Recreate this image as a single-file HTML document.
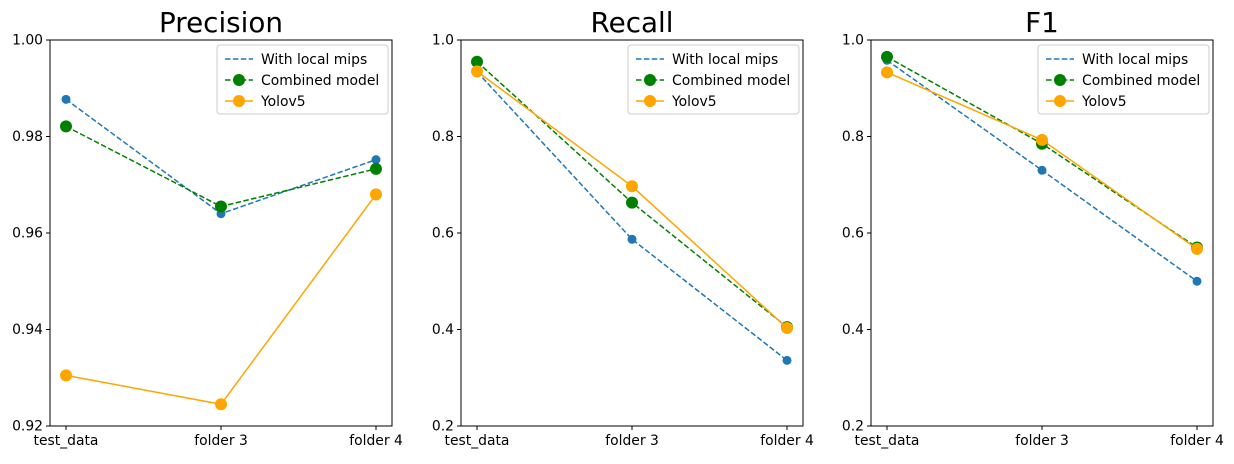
<!DOCTYPE html>
<html><head><meta charset="utf-8"><style>
body{margin:0;background:#fff}
svg text{font-family:"DejaVu Sans","Liberation Sans",sans-serif}
</style></head><body>
<svg id="c" width="1234" height="459"></svg>
<script>
const categories=["test_data","folder 3","folder 4"];
const titles=["Precision","Recall","F1"];
const seriesNames=["With local mips","Combined model","Yolov5"];
const precLocal=[0.9877,0.9640,0.9752];
const precComb=[0.9821,0.9655,0.9733];
const precYolo=[0.9305,0.9245,0.9680];
const recLocal=[0.934,0.587,0.336];
const recComb=[0.955,0.663,0.405];
const recYolo=[0.935,0.697,0.403];
const f1Local=[0.958,0.730,0.500];
const f1Comb=[0.965,0.785,0.570];
const f1Yolo=[0.933,0.793,0.567];
const precTicks=[0.92,0.94,0.96,0.98,1.00];
const otherTicks=[0.2,0.4,0.6,0.8,1.0];
const NS="http://www.w3.org/2000/svg";
const svgEl=document.getElementById('c');
function mk(tag,attrs,parent,txt){const e=document.createElementNS(NS,tag);for(const k in attrs)e.setAttribute(k,attrs[k]);if(txt!==undefined)e.textContent=txt;(parent||svgEl).appendChild(e);return e;}
const panels=[
 {x0:50,ymin:0.92,ymax:1.0,ticks:precTicks,dec:2,data:[precLocal,precComb,precYolo]},
 {x0:461,ymin:0.2,ymax:1.0,ticks:otherTicks,dec:1,data:[recLocal,recComb,recYolo]},
 {x0:871,ymin:0.2,ymax:1.0,ticks:otherTicks,dec:1,data:[f1Local,f1Comb,f1Yolo]}];
const PW=342,topY=40,botY=426;
const styles=[{c:"#1f77b4",dash:"5.5,2.4",r:4.5},{c:"green",dash:"5.5,2.4",r:6},{c:"orange",dash:"",r:6}];
panels.forEach((p,pi)=>{
 const g=mk('g',{},svgEl);
 
 
 const xs=i=>p.x0+16+i*(PW-32)/(categories.length-1);
 const ys=v=>botY-(v-p.ymin)/(p.ymax-p.ymin)*(botY-topY);
 const t=mk('text',{x:p.x0+PW/2,y:32,'text-anchor':'middle','font-size':'27.8'},g,titles[pi]);
 
 
 p.ticks.forEach(v=>{
  mk('line',{x1:p.x0-4,x2:p.x0,y1:ys(v),y2:ys(v),stroke:'#000'},g);
  const l=mk('text',{x:p.x0-7,y:ys(v)+4.5,'text-anchor':'end','font-size':'13.9'},g,v.toFixed(p.dec));
  
  
 });
 categories.forEach((c,i)=>{
  mk('line',{x1:xs(i),x2:xs(i),y1:botY,y2:botY+4,stroke:'#000'},g);
  const l=mk('text',{x:xs(i),y:botY+19,'text-anchor':'middle','font-size':'13.9'},g,c);
  
  
 });
 p.data.forEach((arr,si)=>{
  const s=styles[si];
  const pl=mk('polyline',{points:arr.map((v,i)=>xs(i)+','+ys(v)).join(' '),fill:'none',stroke:s.c,'stroke-width':1.5,'stroke-dasharray':s.dash},g);
  
  
  arr.forEach((v,i)=>{
   const m=mk('circle',{cx:xs(i),cy:ys(v),r:s.r,fill:s.c},g);
   
   
  });
 });
 mk('rect',{x:p.x0,y:topY,width:PW,height:botY-topY,fill:'none',stroke:'#000','stroke-width':1},g);
 const lx=p.x0+PW-175,ly=45;
 const lg=mk('g',{},g);
 
 
 mk('rect',{x:lx,y:ly,width:171,height:69,rx:3,fill:'#fff','fill-opacity':0.8,stroke:'#ccc'},lg);
 seriesNames.forEach((n,si)=>{
  const s=styles[si],yy=ly+14+si*21;
  mk('line',{x1:lx+8,x2:lx+36,y1:yy,y2:yy,stroke:s.c,'stroke-width':1.5,'stroke-dasharray':s.dash},lg);
  if(si>0)mk('circle',{cx:lx+22,cy:yy,r:6,fill:s.c},lg);
  const e=mk('text',{x:lx+44,y:yy+5,'font-size':'13.9'},lg,n);
  
  
 });
});
</script>
</body></html>
